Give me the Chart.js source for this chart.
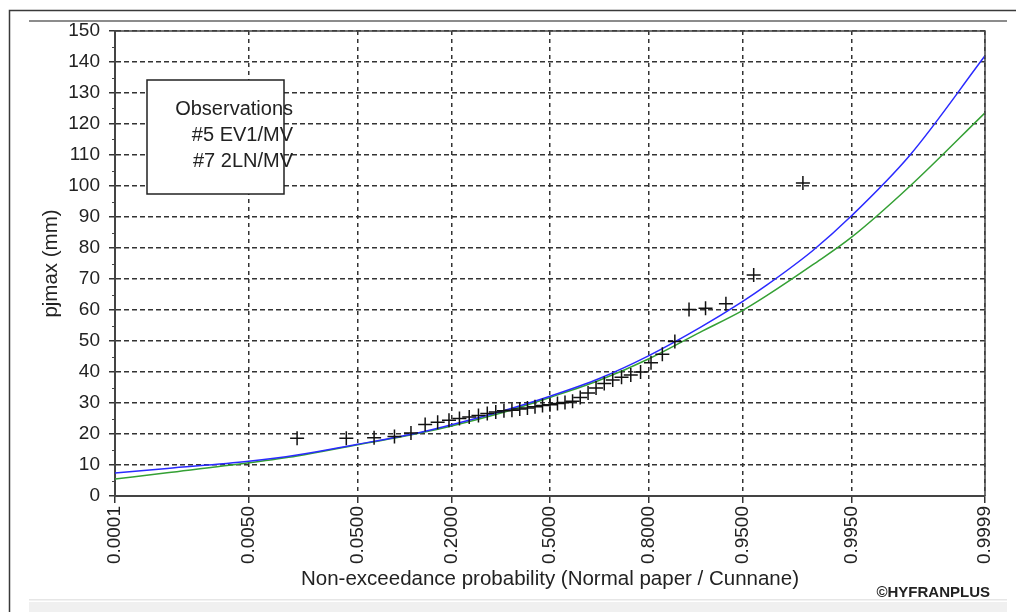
<!DOCTYPE html>
<html lang="en">
<head>
<meta charset="UTF-8" />
<title>pjmax - normal paper</title>
<script src="https://cdn.jsdelivr.net/npm/chart.js@4.4.0/dist/chart.umd.min.js"></script>
<style>
  body { margin: 0; background: #fff; }
</style>
</head>
<body>
<canvas id="myChart" width="1016" height="612"></canvas>
<script>
// x axis ticks (non-exceedance probability, plotted on normal paper)
var tickProbs = [0.0001, 0.005, 0.05, 0.2, 0.5, 0.8, 0.95, 0.995, 0.9999];
var tickLabels = ["0.0001", "0.0050", "0.0500", "0.2000", "0.5000", "0.8000", "0.9500", "0.9950", "0.9999"];

// observations (Cunnane plotting positions) and pjmax in mm
var obsProb = [0.0153, 0.0408, 0.0663, 0.0918, 0.1173, 0.1429, 0.1684, 0.1939, 0.2194, 0.2449,
  0.2704, 0.2959, 0.3214, 0.3469, 0.3724, 0.3980, 0.4235, 0.4490, 0.4745, 0.5000,
  0.5255, 0.5510, 0.5765, 0.6020, 0.6276, 0.6531, 0.6786, 0.7041, 0.7296, 0.7551,
  0.7806, 0.8061, 0.8316, 0.8571, 0.8827, 0.9082, 0.9337, 0.9592, 0.9847];
var obsValue = [18.6, 18.6, 18.8, 19.2, 20.3, 23.1, 23.8, 24.4, 25.0, 25.5,
  26.0, 26.6, 27.1, 27.5, 27.7, 28.1, 28.4, 28.8, 29.2, 29.4,
  29.8, 30.2, 30.6, 31.8, 33.2, 34.8, 36.3, 37.4, 38.3, 39.0,
  40.0, 43.0, 45.7, 49.8, 60.2, 60.6, 62.0, 71.3, 101.0];

// fitted curves
var curveProb = [0.0001, 0.00053, 0.005, 0.0153, 0.05, 0.1, 0.133, 0.2, 0.3345, 0.5,
  0.6655, 0.8, 0.9, 0.95, 0.968, 0.9877, 0.995, 0.99896, 0.9999];
var ev1Value = [7.4, 8.9, 11.2, 13.2, 16.7, 19.2, 20.5, 23.0, 27.2, 32.2,
  38.0, 45.2, 54.3, 62.7, 68.0, 79.2, 90.3, 110.0, 142.0];
var ln2Value = [5.5, 7.5, 10.7, 12.9, 16.5, 19.0, 20.3, 22.6, 26.7, 31.8,
  37.4, 44.2, 52.8, 59.8, 64.6, 74.6, 83.4, 100.0, 123.6];

var legendLines = ["Observations", "#5 EV1/MV", "#7 2LN/MV"];

// inverse of the standard normal cdf (Acklam)
function probit(p) {
  var a = [-39.69683028665376, 220.9460984245205, -275.9285104469687, 138.3577518672690, -30.66479806614716, 2.506628277459239];
  var b = [-54.47609879822406, 161.5858368580409, -155.6989798598866, 66.80131188771972, -13.28068155288572];
  var c = [-0.007784894002430293, -0.3223964580411365, -2.400758277161838, -2.549732539343734, 4.374664141464968, 2.938163982698783];
  var d = [0.007784695709041462, 0.3224671290700398, 2.445134137142996, 3.754408661907416];
  var plow = 0.02425, q, r;
  if (p < plow) {
    q = Math.sqrt(-2 * Math.log(p));
    return (((((c[0]*q+c[1])*q+c[2])*q+c[3])*q+c[4])*q+c[5]) / ((((d[0]*q+d[1])*q+d[2])*q+d[3])*q+1);
  }
  if (p > 1 - plow) {
    q = Math.sqrt(-2 * Math.log(1 - p));
    return -(((((c[0]*q+c[1])*q+c[2])*q+c[3])*q+c[4])*q+c[5]) / ((((d[0]*q+d[1])*q+d[2])*q+d[3])*q+1);
  }
  q = p - 0.5; r = q * q;
  return (((((a[0]*r+a[1])*r+a[2])*r+a[3])*r+a[4])*r+a[5])*q / (((((b[0]*r+b[1])*r+b[2])*r+b[3])*r+b[4])*r+1);
}

function toPoints(probs, vals) {
  return probs.map(function (p, i) { return { x: probit(p), y: vals[i] }; });
}

var FONT = '"Liberation Sans", Arial, sans-serif';
Chart.defaults.font.family = FONT;
Chart.defaults.color = "#222";

var framePlugin = {
  id: "frame",
  beforeDraw: function (chart) {
    var ctx = chart.ctx;
    ctx.save();
    ctx.fillStyle = "#fff";
    ctx.fillRect(0, 0, chart.width, chart.height);
    ctx.strokeStyle = "#3a3a3a";
    ctx.lineWidth = 1.5;
    ctx.beginPath();
    ctx.moveTo(9.5, chart.height);
    ctx.lineTo(9.5, 10.5);
    ctx.lineTo(chart.width, 10.5);
    ctx.stroke();
    ctx.strokeStyle = "#8c8c8c";
    ctx.lineWidth = 2;
    ctx.beginPath();
    ctx.moveTo(29, 21);
    ctx.lineTo(1007, 21);
    ctx.stroke();
    ctx.fillStyle = "#e6e6e6";
    ctx.fillRect(29, 599, 978, 1.5);
    ctx.fillStyle = "#f0f0f0";
    ctx.fillRect(29, 602, 978, 10);
    ctx.restore();
  },
  afterDraw: function (chart) {
    var ctx = chart.ctx, a = chart.chartArea, ys = chart.scales.y;
    ctx.save();
    ctx.strokeStyle = "#444";
    ctx.lineWidth = 1.5;
    ctx.beginPath();
    ctx.moveTo(a.left, a.top);
    ctx.lineTo(a.right, a.top);
    ctx.lineTo(a.right, a.bottom);
    ctx.stroke();
    // minor ticks on the y axis
    ctx.lineWidth = 1;
    ctx.beginPath();
    for (var v = 5; v < 150; v += 10) {
      var py = Math.round(ys.getPixelForValue(v)) + 0.5;
      ctx.moveTo(a.left - 3, py);
      ctx.lineTo(a.left, py);
    }
    ctx.stroke();
    // legend box
    var bx = a.left + 32, by = a.top + 49;
    ctx.fillStyle = "#fff";
    ctx.fillRect(bx, by, 137, 114);
    ctx.strokeStyle = "#222";
    ctx.lineWidth = 1.5;
    ctx.strokeRect(bx, by, 137, 114);
    ctx.fillStyle = "#222";
    ctx.font = "20px " + FONT;
    ctx.textAlign = "right";
    ctx.textBaseline = "alphabetic";
    legendLines.forEach(function (t, i) {
      ctx.fillText(t, bx + 146, by + 35 + i * 26);
    });
    ctx.font = "bold 15px " + FONT;
    ctx.textAlign = "right";
    ctx.fillText("\u00A9HYFRANPLUS", 990, 597);
    ctx.restore();
  }
};

var chart = new Chart(document.getElementById("myChart"), {
  type: "scatter",
  data: {
    datasets: [
      {
        label: "Observations",
        data: toPoints(obsProb, obsValue),
        pointStyle: "cross",
        pointRadius: 7,
        pointBorderWidth: 1.5,
        borderColor: "#111",
        backgroundColor: "#111",
        showLine: false
      },
      {
        label: "#5 EV1/MV",
        data: toPoints(curveProb, ev1Value),
        showLine: true,
        borderColor: "#2a2aff",
        borderWidth: 1.5,
        pointRadius: 0,
        cubicInterpolationMode: "monotone"
      },
      {
        label: "#7 2LN/MV",
        data: toPoints(curveProb, ln2Value),
        showLine: true,
        borderColor: "#34a034",
        borderWidth: 1.5,
        pointRadius: 0,
        cubicInterpolationMode: "monotone"
      }
    ]
  },
  options: {
    responsive: false,
    animation: false,
    layout: { padding: { left: 0, right: 31, top: 31, bottom: 0 } },
    plugins: { legend: { display: false }, tooltip: { enabled: false } },
    scales: {
      x: {
        type: "linear",
        min: probit(0.0001),
        max: probit(0.9999),
        afterBuildTicks: function (scale) {
          scale.ticks = tickProbs.map(function (p) { return { value: probit(p) }; });
        },
        afterFit: function (scale) { scale.height = 116; },
        ticks: {
          autoSkip: false,
          minRotation: 90,
          maxRotation: 90,
          padding: 3,
          font: { size: 19 },
          callback: function (v, i) { return tickLabels[i]; }
        },
        grid: { color: "#333", lineWidth: 1.5, tickLength: 7, tickColor: "#333", tickWidth: 1.5 },
        border: { color: "#444", width: 2, dash: [4, 4] },
        title: {
          display: true,
          text: "Non-exceedance probability (Normal paper / Cunnane)",
          font: { size: 20.5 },
          padding: { top: 0, bottom: 20 }
        }
      },
      y: {
        min: 0,
        max: 150,
        afterFit: function (scale) { scale.width = 115; },
        ticks: { stepSize: 10, padding: 9, font: { size: 19 } },
        grid: { color: "#333", lineWidth: 1.5, tickLength: 6, tickColor: "#333", tickWidth: 1.5 },
        border: { color: "#444", width: 2, dash: [5, 3] },
        title: {
          display: true,
          text: "pjmax (mm)",
          font: { size: 20.5 },
          padding: { top: 39, bottom: 0 }
        }
      }
    }
  },
  plugins: [framePlugin]
});
</script>
</body>
</html>
